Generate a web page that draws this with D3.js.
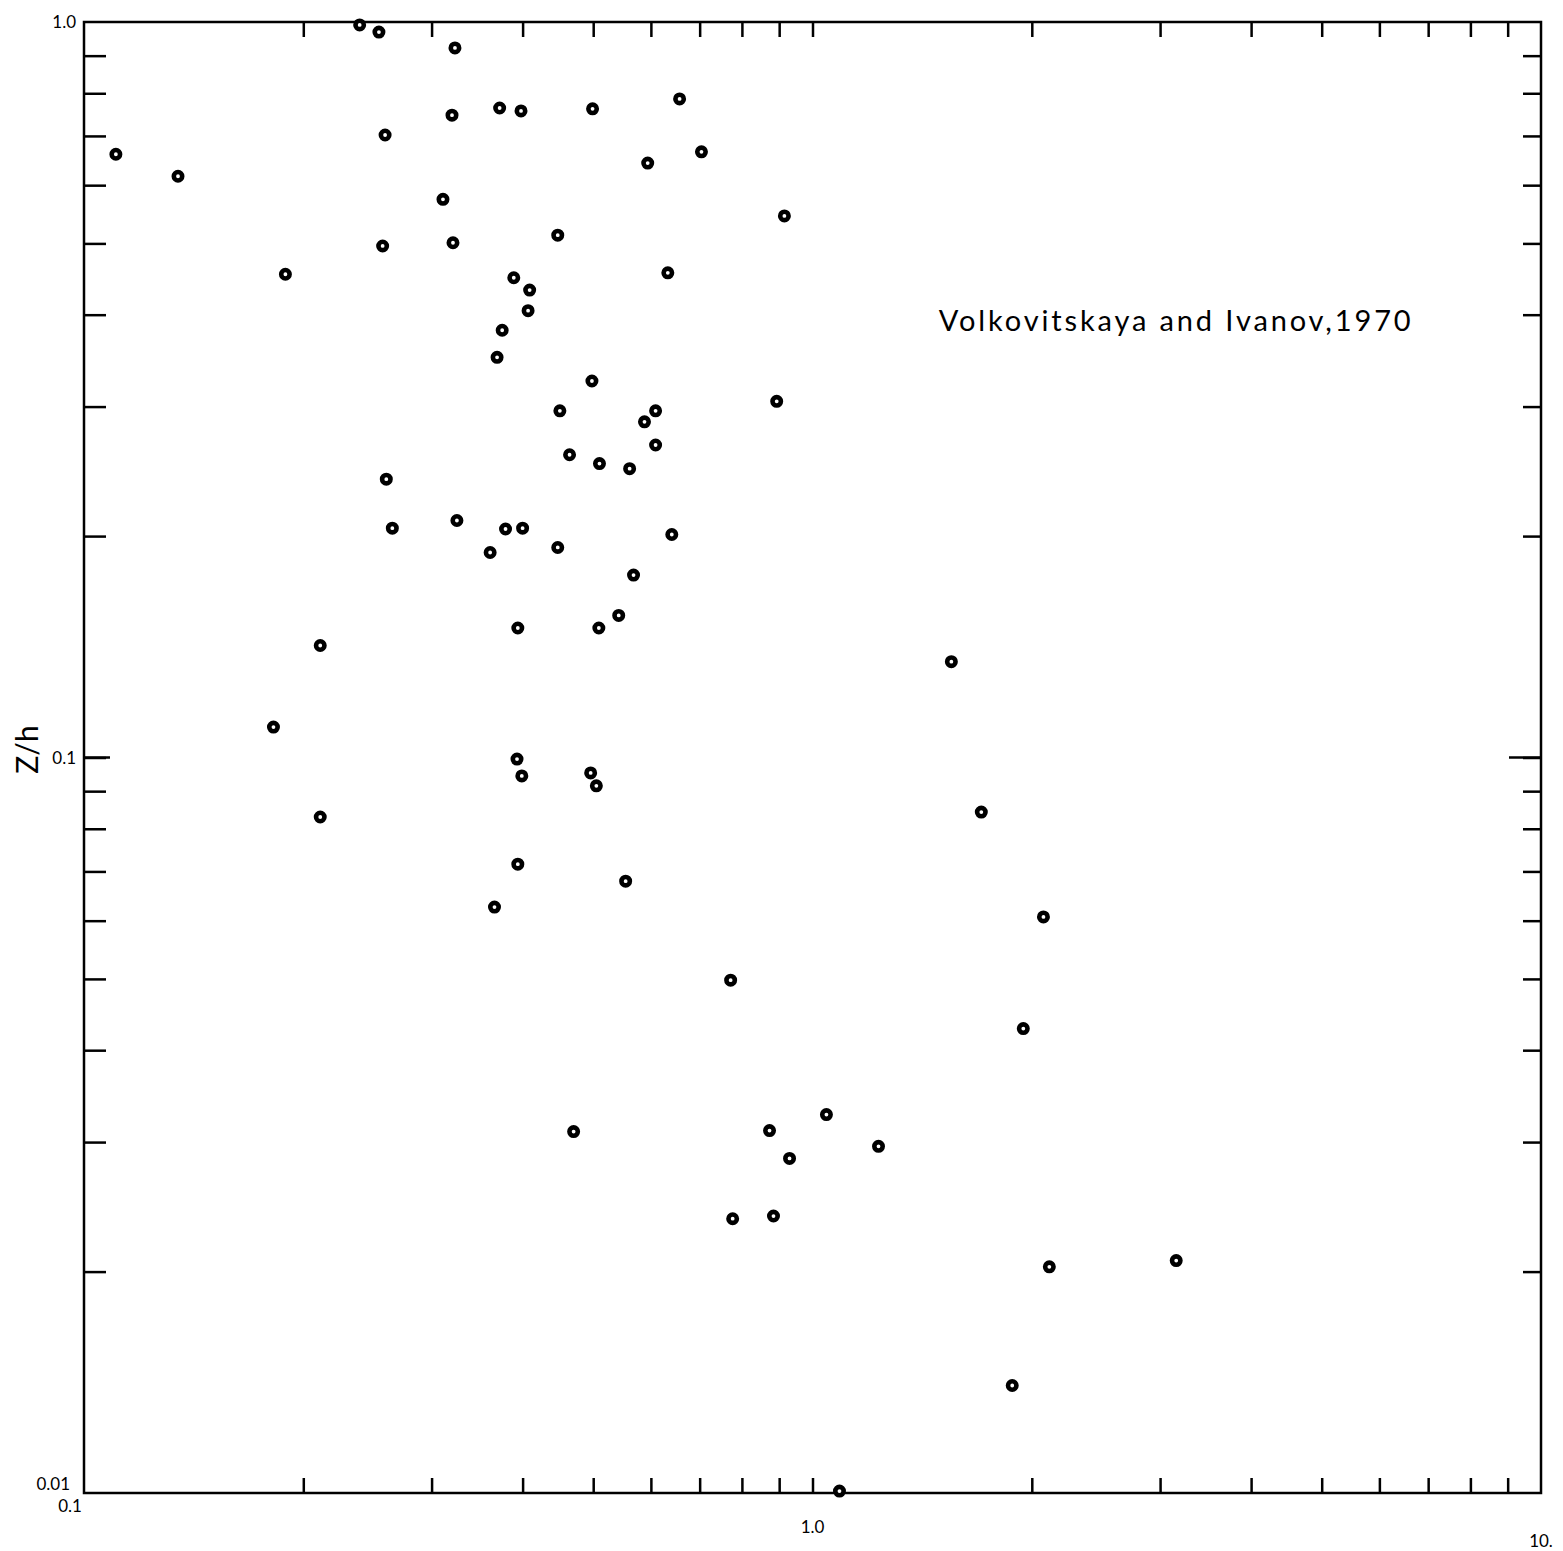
<!DOCTYPE html>
<html>
<head>
<meta charset="utf-8">
<script src="https://cdn.jsdelivr.net/npm/d3@7"></script>
<style>
  body { margin: 0; background: #fff; }
  svg { display: block; }
  .tick line { stroke: #000; stroke-width: 2.5; }
  text { font-family: Lato, "DejaVu Sans", sans-serif; fill: #000; }
</style>
</head>
<body>
<script>
// Z/h vs x, log-log scatter (Volkovitskaya and Ivanov, 1970)

// x value of each point
let xVals = [0.1106, 0.1346, 0.239, 0.254, 0.323, 0.320, 0.372, 0.398, 0.499, 0.657,
             0.259, 0.704, 0.594, 0.311, 0.915, 0.257, 0.321, 0.447, 0.189, 0.633,
             0.389, 0.409, 0.407, 0.375, 0.369, 0.498, 0.893, 0.450, 0.609, 0.588,
             0.609, 0.464, 0.510, 0.561, 0.260, 0.325, 0.265, 0.379, 0.400, 0.641,
             0.361, 0.447, 0.568, 0.542, 0.394, 0.509, 0.211, 1.551, 0.182, 0.393,
             0.399, 0.496, 0.505, 0.211, 1.705, 0.394, 0.554, 0.366, 2.075, 0.772,
             1.947, 1.045, 0.470, 0.873, 1.232, 0.930, 0.777, 0.884, 2.114, 3.157,
             1.880, 1.089];
// Z/h of each point
let zh = [0.661, 0.617, 0.991, 0.969, 0.922, 0.747, 0.764, 0.757, 0.762, 0.786,
          0.702, 0.666, 0.643, 0.574, 0.545, 0.496, 0.501, 0.513, 0.454, 0.456,
          0.449, 0.432, 0.405, 0.381, 0.350, 0.325, 0.305, 0.296, 0.296, 0.286,
          0.266, 0.258, 0.251, 0.247, 0.239, 0.210, 0.205, 0.2045, 0.205, 0.201,
          0.190, 0.193, 0.177, 0.156, 0.150, 0.150, 0.142, 0.135, 0.110, 0.0995,
          0.0944, 0.0953, 0.0915, 0.0830, 0.0843, 0.0716, 0.0679, 0.0626, 0.0607, 0.0498,
          0.0428, 0.0327, 0.0310, 0.0311, 0.0296, 0.0285, 0.0236, 0.0238, 0.0203, 0.0207,
          0.0140, 0.01006];

let xTicks = [0.2, 0.3, 0.4, 0.5, 0.6, 0.7, 0.8, 0.9, 1, 2, 3, 4, 5, 6, 7, 8, 9];
let yTicks = [0.02, 0.03, 0.04, 0.05, 0.06, 0.07, 0.08, 0.09, 0.1,
              0.2, 0.3, 0.4, 0.5, 0.6, 0.7, 0.8, 0.9];
let xLabels = [{v: 0.1, t: "0.1"}, {v: 1, t: "1.0"}, {v: 10, t: "10."}];
let yLabels = [{v: 1, t: "1.0"}, {v: 0.1, t: "0.1"}, {v: 0.01, t: "0.01"}];
let yTitle = "Z/h";
let note = "Volkovitskaya and Ivanov,1970";

let margin = {top: 22, right: 22, bottom: 58, left: 84},
    width = 1563 - margin.left - margin.right,
    height = 1551 - margin.top - margin.bottom;

let x = d3.scaleLog().domain([0.1, 10]).range([0, width]);
let y = d3.scaleLog().domain([0.01, 1]).range([height, 0]);

let svg = d3.select("body").append("svg")
    .attr("width", 1563)
    .attr("height", 1551)
    .append("g")
    .attr("transform", "translate(" + margin.left + "," + margin.top + ")");

// ticks, all pointing into the frame
svg.append("g")
    .attr("transform", "translate(0," + height + ")")
    .call(d3.axisBottom(x).tickValues(xTicks).tickSize(-15).tickFormat(""));
svg.append("g")
    .call(d3.axisTop(x).tickValues(xTicks).tickSize(-15).tickFormat(""));
svg.append("g")
    .call(d3.axisLeft(y).tickValues(yTicks).tickSize(-22).tickFormat(""));
svg.append("g")
    .attr("transform", "translate(" + width + ",0)")
    .call(d3.axisRight(y).tickValues(yTicks).tickSize(-18).tickFormat(""));
svg.selectAll(".domain").remove();

// longer 0.1 ticks on the sides
svg.append("line")
    .attr("x1", 0).attr("x2", 26)
    .attr("y1", y(0.1)).attr("y2", y(0.1))
    .attr("stroke", "#000").attr("stroke-width", 2.5);
svg.append("line")
    .attr("x1", width).attr("x2", width - 32)
    .attr("y1", y(0.1)).attr("y2", y(0.1))
    .attr("stroke", "#000").attr("stroke-width", 2.5);

// frame
svg.append("rect")
    .attr("x", 0).attr("y", 0)
    .attr("width", width).attr("height", height)
    .attr("fill", "none")
    .attr("stroke", "#000")
    .attr("stroke-width", 2.5);

// tick labels
svg.selectAll(".ylab")
    .data(yLabels)
    .enter().append("text")
    .attr("x", function(d) { return d.v === 0.01 ? -14 : -8; })
    .attr("y", function(d) { return y(d.v) + (d.v === 0.01 ? -3 : 6); })
    .attr("text-anchor", "end")
    .style("font-size", "17px")
    .text(function(d) { return d.t; });

svg.selectAll(".xlab")
    .data(xLabels)
    .enter().append("text")
    .attr("x", function(d) { return x(d.v) - (d.v === 0.1 ? 14 : 0); })
    .attr("y", function(d) { return height + (d.v === 0.1 ? 19 : d.v === 1 ? 40 : 54); })
    .attr("text-anchor", "middle")
    .style("font-size", "17px")
    .text(function(d) { return d.t; });

// y axis title
svg.append("text")
    .attr("transform", "translate(-46," + (y(0.1) - 8) + ") rotate(-90)")
    .attr("text-anchor", "middle")
    .style("font-size", "30px")
    .text(yTitle);

// note
svg.append("text")
    .attr("x", x(1.49))
    .attr("y", y(0.38))
    .attr("textLength", 472)
    .attr("lengthAdjust", "spacing")
    .style("font-size", "29px")
    .text(note);

// points
svg.selectAll(".dot")
    .data(xVals)
    .enter().append("circle")
    .attr("r", 4.2)
    .attr("cx", function(d) { return x(d); })
    .attr("cy", function(d, i) { return y(zh[i]); })
    .attr("fill", "#fff")
    .attr("stroke", "#000")
    .attr("stroke-width", 4.6);
</script>
</body>
</html>
